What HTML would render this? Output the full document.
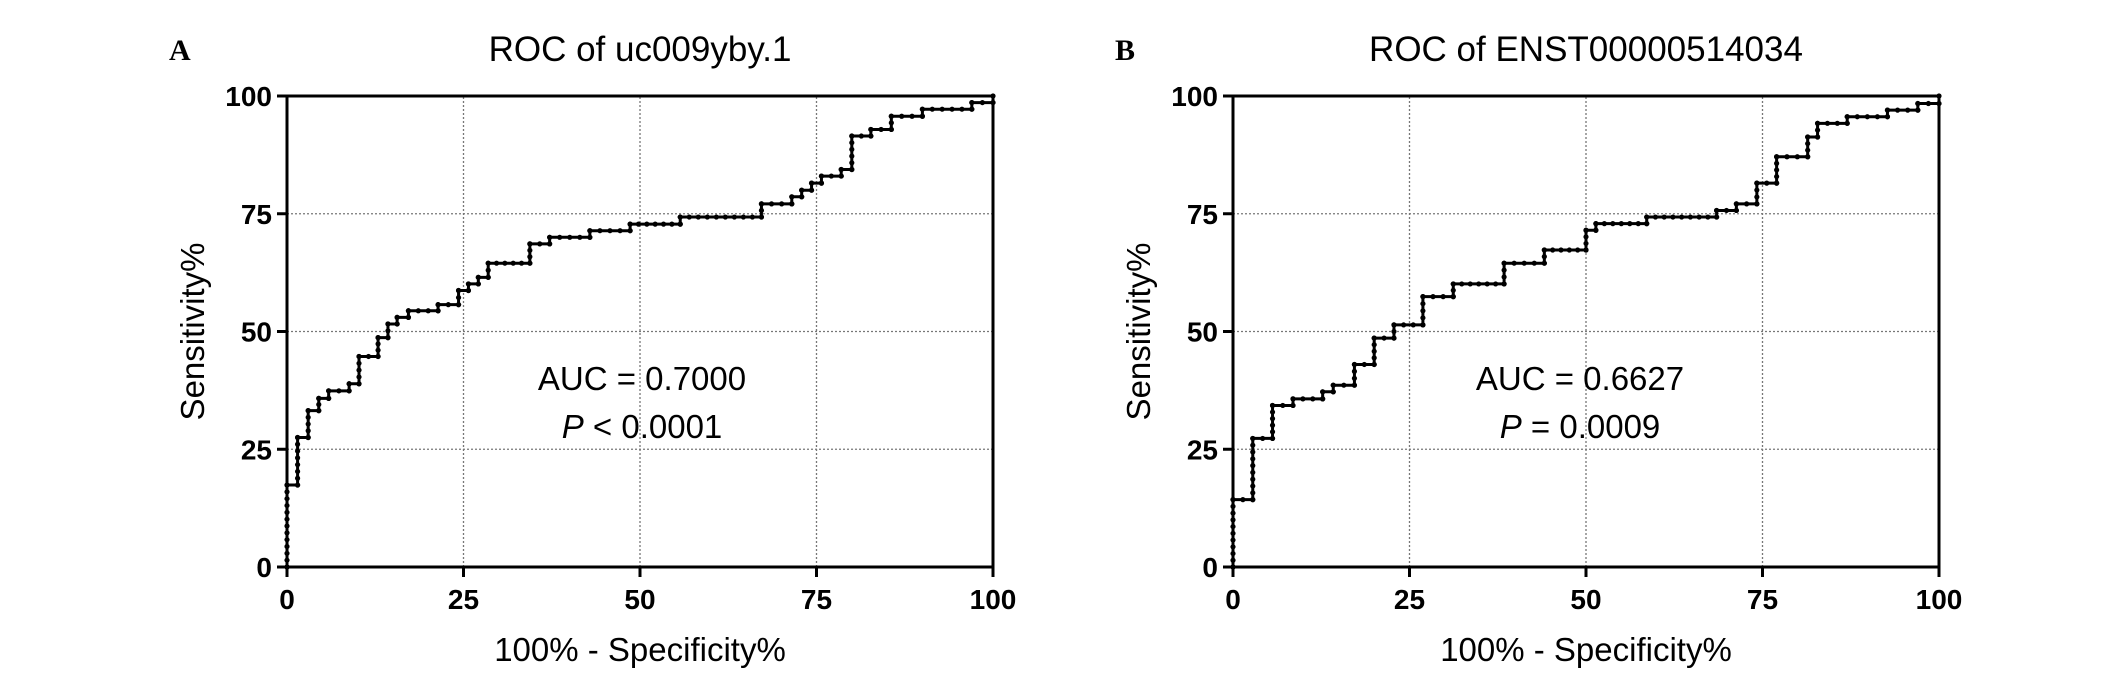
<!DOCTYPE html>
<html><head><meta charset="utf-8"><style>
html,body{margin:0;padding:0;background:#fff;}
svg{display:block;font-family:"Liberation Sans",sans-serif;}
</style></head><body>
<svg id="fig" width="2126" height="684" viewBox="0 0 2126 684" xmlns="http://www.w3.org/2000/svg"></svg>
<script>
const ticks = [0, 25, 50, 75, 100];
const tickLabels = ["0", "25", "50", "75", "100"];
const fprA = [0,1.5,3.0,4.5,5.9,8.8,10.2,12.9,14.3,15.6,17.2,21.4,24.3,25.7,27.1,28.5,34.4,37.2,42.9,48.6,55.7,67.2,71.5,72.9,74.3,75.7,78.5,80.0,82.7,85.6,90.0,97.0,100];
const sensA = [17.4,27.5,33.2,35.8,37.4,38.9,44.7,48.7,51.6,53.0,54.4,55.7,58.7,60.1,61.5,64.5,68.6,70.0,71.4,72.8,74.3,77.1,78.6,80.0,81.5,83.0,84.4,91.5,92.9,95.7,97.2,98.6,100];
const fprB = [0,2.8,5.6,8.5,12.7,14.2,17.2,20.0,22.8,26.9,31.2,38.4,44.1,50.0,51.4,58.6,68.5,71.3,74.2,77.0,81.4,82.8,87.0,92.7,97.0,100];
const sensB = [14.3,27.3,34.3,35.7,37.2,38.6,43.0,48.6,51.4,57.4,60.1,64.5,67.3,71.5,72.9,74.3,75.7,77.1,81.5,87.1,91.3,94.2,95.6,97.0,98.4,100];
const panels = [
  {key:"a", letter:"A", title:"ROC of uc009yby.1", auc:"AUC = 0.7000", pOp:"< 0.0001", x0:287, x1:993, fpr:fprA, sens:sensA, textX:642},
  {key:"b", letter:"B", title:"ROC of ENST00000514034", auc:"AUC = 0.6627", pOp:"= 0.0009", x0:1233, x1:1939, fpr:fprB, sens:sensB, textX:1580}
];
const Y0 = 567, Y1 = 96;
const NS = "http://www.w3.org/2000/svg";
const svg = document.getElementById("fig");
function el(tag, attrs, parent, text){
  const e = document.createElementNS(NS, tag);
  for (const k in attrs) e.setAttribute(k, attrs[k]);
  if (text !== undefined) e.textContent = text;
  (parent || svg).appendChild(e);
  return e;
}
panels.forEach(p => {
  const sx = v => p.x0 + (p.x1 - p.x0) * v / 100;
  const sy = v => Y0 - (Y0 - Y1) * v / 100;
  const g = el("g", {});
  
  
  [25,50,75].forEach(v => {
    const gx = el("line", {x1:sx(v), x2:sx(v), y1:Y0, y2:Y1, stroke:"#777", "stroke-width":1.3, "stroke-dasharray":"2,2"}, g);
    
    
    const gy = el("line", {x1:p.x0, x2:p.x1, y1:sy(v), y2:sy(v), stroke:"#777", "stroke-width":1.3, "stroke-dasharray":"2,2"}, g);
    
    
  });
  const fr = el("rect", {x:p.x0, y:Y1, width:p.x1-p.x0, height:Y0-Y1, fill:"none", stroke:"#000", "stroke-width":3}, g);
  
  
  ticks.forEach((v,i) => {
    const tx = el("line", {x1:sx(v), x2:sx(v), y1:Y0, y2:Y0+10, stroke:"#000", "stroke-width":3}, g);
    
    
    const lx = el("text", {x:sx(v), y:Y0+42, "text-anchor":"middle", "font-size":28, "font-weight":"bold"}, g, tickLabels[i]);
    
    
    const ty = el("line", {x1:p.x0-10, x2:p.x0, y1:sy(v), y2:sy(v), stroke:"#000", "stroke-width":3}, g);
    
    
    const ly = el("text", {x:p.x0-15, y:sy(v)+10, "text-anchor":"end", "font-size":28, "font-weight":"bold"}, g, tickLabels[i]);
    
    
  });
  let d = "M" + sx(0) + "," + sy(0);
  let prevX = 0, prevY = 0;
  const dots = [];
  p.fpr.forEach((x,i) => {
    const y = p.sens[i];
    const nh = Math.max(1, Math.round((sx(x)-sx(prevX))/9));
    for (let k=0;k<=nh;k++) dots.push([prevX+(x-prevX)*k/nh, prevY]);
    const nv = Math.max(1, Math.round((sy(prevY)-sy(y))/7));
    for (let k=0;k<=nv;k++) dots.push([x, prevY+(y-prevY)*k/nv]);
    d += " L" + sx(x) + "," + sy(prevY) + " L" + sx(x) + "," + sy(y);
    prevX = x; prevY = y;
  });
  const path = el("path", {d:d, fill:"none", stroke:"#000", "stroke-width":3}, g);
  
  
  dots.forEach(pt => {
    const c = el("circle", {cx:sx(pt[0]), cy:sy(pt[1]), r:2.6, fill:"#000"}, g);
    
    
  });
  const cx = (p.x0 + p.x1)/2;
  const t = el("text", {x:cx, y:61, "text-anchor":"middle", "font-size":35}, g, p.title);
  
  
  const L = el("text", {x:p.x0-118, y:60, "font-family":"Liberation Serif, serif", "font-size":30, "font-weight":"bold"}, g, p.letter);
  
  
  const xt = el("text", {x:cx, y:661, "text-anchor":"middle", "font-size":33}, g, "100% - Specificity%");
  
  
  const yt = el("text", {x:0, y:0, "text-anchor":"middle", "font-size":33, transform:"translate(" + (p.x0-83) + "," + ((Y0+Y1)/2) + ") rotate(-90)"}, g, "Sensitivity%");
  
  
  const a = el("text", {x:p.textX, y:390, "text-anchor":"middle", "font-size":33}, g, p.auc);
  
  
  const pv = el("text", {x:p.textX, y:438, "text-anchor":"middle", "font-size":33}, g);
  
  
  el("tspan", {"font-style":"italic"}, pv, "P");
  el("tspan", {}, pv, " " + p.pOp);
});
</script>
</body></html>
